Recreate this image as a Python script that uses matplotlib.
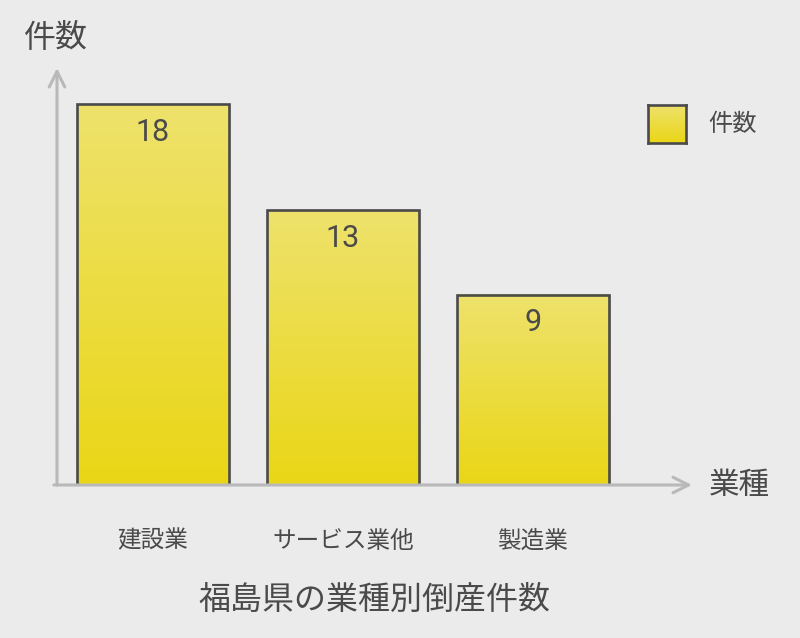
import numpy as np
import matplotlib
matplotlib.use("Agg")
import matplotlib.pyplot as plt

plt.rcParams['font.family'] = ['Noto Sans CJK JP', 'DejaVu Sans']

# data
categories = ["建設業", "サービス業他", "製造業"]
counts = [18, 13, 9]
series_name = "件数"
x_label = "業種"
y_label = "件数"
title = "福島県の業種別倒産件数"

bg = "#ebebeb"
text_color = "#4a4a4a"
axis_color = "#b9b9b9"
edge_color = "#4a4a4a"
top_rgb = np.array([238, 226, 108]) / 255
bot_rgb = np.array([234, 214, 22]) / 255

fig = plt.figure(figsize=(8, 6.38), dpi=100, facecolor=bg)
ax = fig.add_axes([57 / 800, (638 - 485) / 638, (692 - 57) / 800, (485 - 68) / 638])
ax.set_facecolor(bg)

x = np.arange(len(categories))
width = 0.8

# gradient for bars (row 0 = bottom)
grad = np.linspace(0, 1, 256)[:, None, None]
grad_img = bot_rgb * (1 - grad) + top_rgb * grad

bars = ax.bar(x, counts, width=width, facecolor="none", edgecolor=edge_color,
              linewidth=1.9, zorder=3)
for bar, val in zip(bars, counts):
    x0 = bar.get_x()
    ax.imshow(grad_img, extent=(x0, x0 + width, 0, val), origin="lower",
              aspect="auto", zorder=2, interpolation="bilinear")
    ax.text(x0 + width / 2, val - 1.32, str(val), ha="center", va="center",
            fontsize=22, color=text_color, family=['Roboto', 'Noto Sans CJK JP'], zorder=4)

ax.set_xlim(-0.505, 2.837)
ax.set_ylim(0, 19.72)

for s in ax.spines.values():
    s.set_visible(False)
ax.set_xticks([])
ax.set_yticks([])

# axis arrows
arrow_kw = dict(arrowstyle="->", color=axis_color, lw=2.2, mutation_scale=28,
                shrinkA=0, shrinkB=0)
ax.annotate("", xy=(1.0, 0), xytext=(-0.005, 0), xycoords="axes fraction",
            arrowprops=arrow_kw, annotation_clip=False)
ax.annotate("", xy=(0, 1.0), xytext=(0, 0), xycoords="axes fraction",
            arrowprops=arrow_kw, annotation_clip=False)

# category labels
for xi, cat in zip(x, categories):
    ax.text(xi, -2.65, cat, ha="center", va="center", fontsize=17,
            color=text_color)

ax.text(0.5, -5.44, title, transform=ax.get_yaxis_transform(),
        ha="center", va="center", fontsize=23, color=text_color)
fig.text(709 / 800, 1 - 485 / 638, x_label, ha="left", va="center",
         fontsize=22, color=text_color)
fig.text(24 / 800, 1 - 38 / 638, y_label, ha="left", va="center",
         fontsize=23, color=text_color)

# legend swatch with gradient
lax = fig.add_axes([648 / 800, 1 - 143 / 638, 38 / 800, 38 / 638])
lax.imshow(grad_img, extent=(0, 1, 0, 1), origin="lower", aspect="auto",
           interpolation="bilinear")
lax.set_xticks([])
lax.set_yticks([])
for s in lax.spines.values():
    s.set_color(edge_color)
    s.set_linewidth(1.9)
fig.text(708 / 800, 1 - 124 / 638, series_name, ha="left", va="center",
         fontsize=17.5, color=text_color)

fig.savefig("out.png", dpi=100, facecolor=bg)
